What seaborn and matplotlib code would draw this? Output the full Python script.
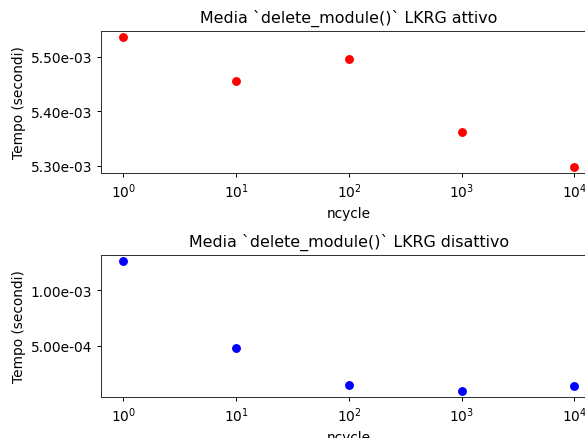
import numpy as np
import pandas as pd
import matplotlib
matplotlib.use("Agg")
import matplotlib.pyplot as plt
import seaborn as sns
from matplotlib.ticker import FormatStrFormatter

# ── Data ─────────────────────────────────────────────────────
ncycle = [1, 10, 100, 1000, 10000]
tempo_attivo = [5.5355e-3, 5.456e-3, 5.4963e-3, 5.362e-3, 5.299e-3]
tempo_disattivo = [1.2577e-3, 4.82e-4, 1.445e-4, 0.96e-4, 1.38e-4]

titles = ["Media `delete_module()` LKRG attivo",
          "Media `delete_module()` LKRG disattivo"]
colors = ["red", "blue"]

sns.set_style("ticks")
plt.rcParams["font.family"] = ["DejaVu Sans"]
plt.rcParams.update({"text.color": "black", "axes.labelcolor": "black",
                     "xtick.color": "black", "ytick.color": "black",
                     "xtick.major.size": 3.5, "ytick.major.size": 3.5,
                     "xtick.minor.size": 0, "ytick.minor.size": 0})

dpi = 100 * 585 / 640
fig = plt.figure(figsize=(6.4, 439 / dpi), dpi=dpi)

# axes run slightly past the right edge, as in the reference crop
ax_top = fig.add_axes([101 / 585, 1 - 174 / 439, 496 / 585, 142 / 439])
ax_bot = fig.add_axes([101 / 585, 1 - 398 / 439, 496 / 585, 142 / 439])

for ax, vals, title, col in zip([ax_top, ax_bot],
                                [tempo_attivo, tempo_disattivo],
                                titles, colors):
    df = pd.DataFrame({"ncycle": ncycle, "tempo": vals})
    sns.scatterplot(data=df, x="ncycle", y="tempo", ax=ax, color=col,
                    s=49, linewidth=0)
    ax.set_xscale("log")
    ax.yaxis.set_major_formatter(FormatStrFormatter("%.2e"))
    ax.set_title(title, fontsize=12.5, pad=7)
    ax.set_xlabel("ncycle", fontsize=10.8)
    ax.set_ylabel("Tempo (secondi)", fontsize=10.8, labelpad=4)
    ax.tick_params(labelsize=10.8)
    for sp in ax.spines.values():
        sp.set_visible(True)
        sp.set_linewidth(0.8)
        sp.set_color("#333333")

ax_top.set_yticks([5.30e-3, 5.40e-3, 5.50e-3])
ax_bot.set_yticks([5.0e-4, 1.0e-3])
ax_top.set_xticks(ncycle)
ax_bot.set_xticks(ncycle)
ax_top.set_xlim(10 ** -0.198, 10 ** 4.2)
ax_bot.set_xlim(10 ** -0.198, 10 ** 4.2)

fig.savefig("out.png", dpi=dpi)
